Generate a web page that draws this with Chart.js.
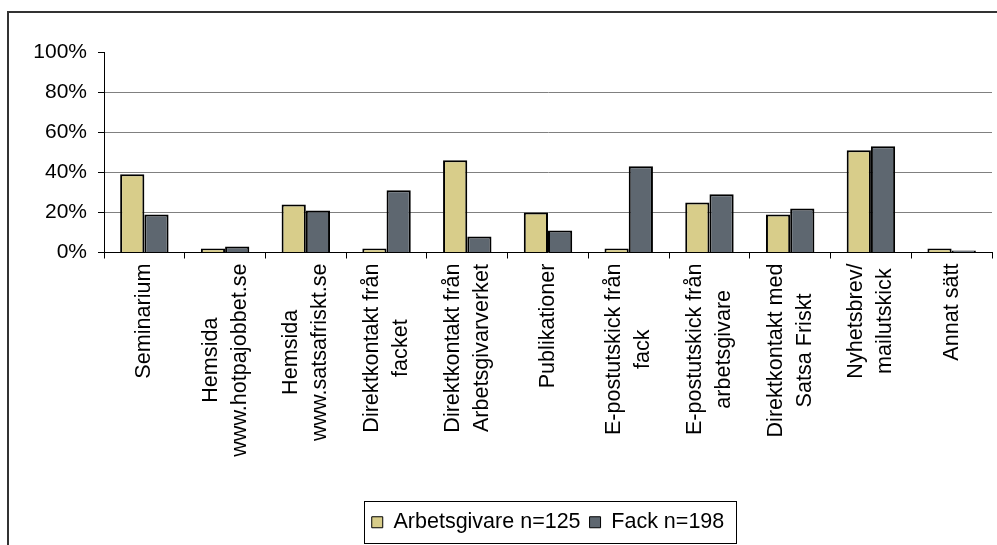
<!DOCTYPE html>
<html>
<head>
<meta charset="utf-8">
<script src="https://cdn.jsdelivr.net/npm/chart.js@4.4.1/dist/chart.umd.min.js"></script>
<style>
html, body { margin: 0; padding: 0; background: #fff; }
#wrap { width: 997px; height: 545px; }
</style>
</head>
<body>
<div id="wrap"><canvas id="myChart" width="997" height="545"></canvas></div>
<script>
const categories = [
    ['Seminarium'],
    ['Hemsida', 'www.hotpajobbet.se'],
    ['Hemsida', 'www.satsafriskt.se'],
    ['Direktkontakt från', 'facket'],
    ['Direktkontakt från', 'Arbetsgivarverket'],
    ['Publikationer'],
    ['E-postutskick från', 'fack'],
    ['E-postutskick från', 'arbetsgivare'],
    ['Direktkontakt med', 'Satsa Friskt'],
    ['Nyhetsbrev/', 'mailutskick'],
    ['Annat sätt']
];
const arbetsgivare = [39, 2, 24, 2, 46, 20, 2, 25, 19, 51, 2];
const fack = [19, 3, 21, 31, 8, 11, 43, 29, 22, 53, 1];
const seriesNames = ['Arbetsgivare n=125', 'Fack n=198'];
const yMax = 100;
const yStep = 20;

const FONT = '"Liberation Sans", Arial, sans-serif';

// frame round the chart (left + top edge only are visible)
const framePlugin = {
    id: 'frame',
    beforeDraw(chart) {
        const ctx = chart.ctx;
        ctx.save();
        ctx.strokeStyle = '#333';
        ctx.lineWidth = 2;
        ctx.beginPath();
        ctx.moveTo(8, 545);
        ctx.lineTo(8, 12);
        ctx.lineTo(997, 12);
        ctx.stroke();
        ctx.restore();
    }
};

// rotated category labels, lines centred on each other like Excel
const labelPlugin = {
    id: 'rotatedLabels',
    afterDraw(chart) {
        const ctx = chart.ctx;
        const xs = chart.scales.x;
        ctx.save();
        ctx.font = '21.6px ' + FONT;
        ctx.fillStyle = '#000';
        ctx.textAlign = 'center';
        ctx.textBaseline = 'middle';
        const top = xs.top + 6 + 5;
        chart.data.labels.forEach((lines, i) => {
            const px = xs.getPixelForTick(i);
            const maxW = Math.max(...lines.map(l => ctx.measureText(l).width));
            ctx.save();
            ctx.translate(px, top + maxW / 2);
            ctx.rotate(-Math.PI / 2);
            lines.forEach((line, j) => {
                ctx.fillText(line, 0, (j - (lines.length - 1) / 2) * 29);
            });
            ctx.restore();
        });
        ctx.restore();
    }
};

// box round the legend
const legendBoxPlugin = {
    id: 'legendBox',
    afterDraw(chart) {
        const lg = chart.legend;
        if (!lg || !lg.legendHitBoxes.length) return;
        const hb = lg.legendHitBoxes;
        const first = hb[0], last = hb[hb.length - 1];
        const cy = first.top + first.height / 2;
        const ctx = chart.ctx;
        ctx.save();
        ctx.strokeStyle = '#000';
        ctx.lineWidth = 1;
        ctx.strokeRect(Math.round(first.left - 8) + 0.5, Math.round(cy - 21) + 0.5,
            Math.round(last.left + last.width - first.left + 19), 42);
        ctx.restore();
    }
};

const ctx = document.getElementById('myChart').getContext('2d');
const myChart = new Chart(ctx, {
    type: 'bar',
    data: {
        labels: categories,
        datasets: [{
            label: seriesNames[0],
            data: arbetsgivare,
            backgroundColor: '#D8CD8A',
            borderColor: '#000',
            borderWidth: 2
        }, {
            label: seriesNames[1],
            data: fack,
            backgroundColor: '#5E6770',
            borderColor: '#000',
            borderWidth: 2
        }]
    },
    options: {
        responsive: false,
        animation: false,
        layout: { padding: { left: 0, top: 52, right: 5, bottom: 2 } },
        datasets: {
            bar: { categoryPercentage: 0.6, barPercentage: 1.0 }
        },
        scales: {
            x: {
                grid: {
                    offset: true,
                    drawOnChartArea: false,
                    drawTicks: true,
                    tickLength: 6,
                    color: '#000',
                    tickColor: '#000'
                },
                border: { color: '#000', width: 1 },
                ticks: { display: false },
                afterFit(scale) { scale.height = 250; }
            },
            y: {
                min: 0,
                max: yMax,
                grid: {
                    color: c => (c.tick && (c.tick.value === 0 || c.tick.value === yMax)) ? 'rgba(0,0,0,0)' : '#808080',
                    tickColor: '#000',
                    tickLength: 6,
                    lineWidth: 1
                },
                border: { color: '#000', width: 1 },
                ticks: {
                    stepSize: yStep,
                    padding: 11,
                    color: '#000',
                    font: { family: FONT, size: 21 },
                    callback: v => v + '%'
                },
                afterFit(scale) { scale.width = 104; }
            }
        },
        plugins: {
            tooltip: { enabled: false },
            legend: {
                position: 'bottom',
                fullSize: false,
                labels: {
                    boxWidth: 11,
                    boxHeight: 11,
                    padding: 9,
                    color: '#000',
                    font: { family: FONT, size: 21.5 },
                    generateLabels(chart) {
                        const items = Chart.defaults.plugins.legend.labels.generateLabels(chart);
                        items.forEach(it => { it.lineWidth = 1; });
                        return items;
                    }
                }
            }
        }
    },
    plugins: [framePlugin, labelPlugin, legendBoxPlugin]
});
</script>
</body>
</html>
